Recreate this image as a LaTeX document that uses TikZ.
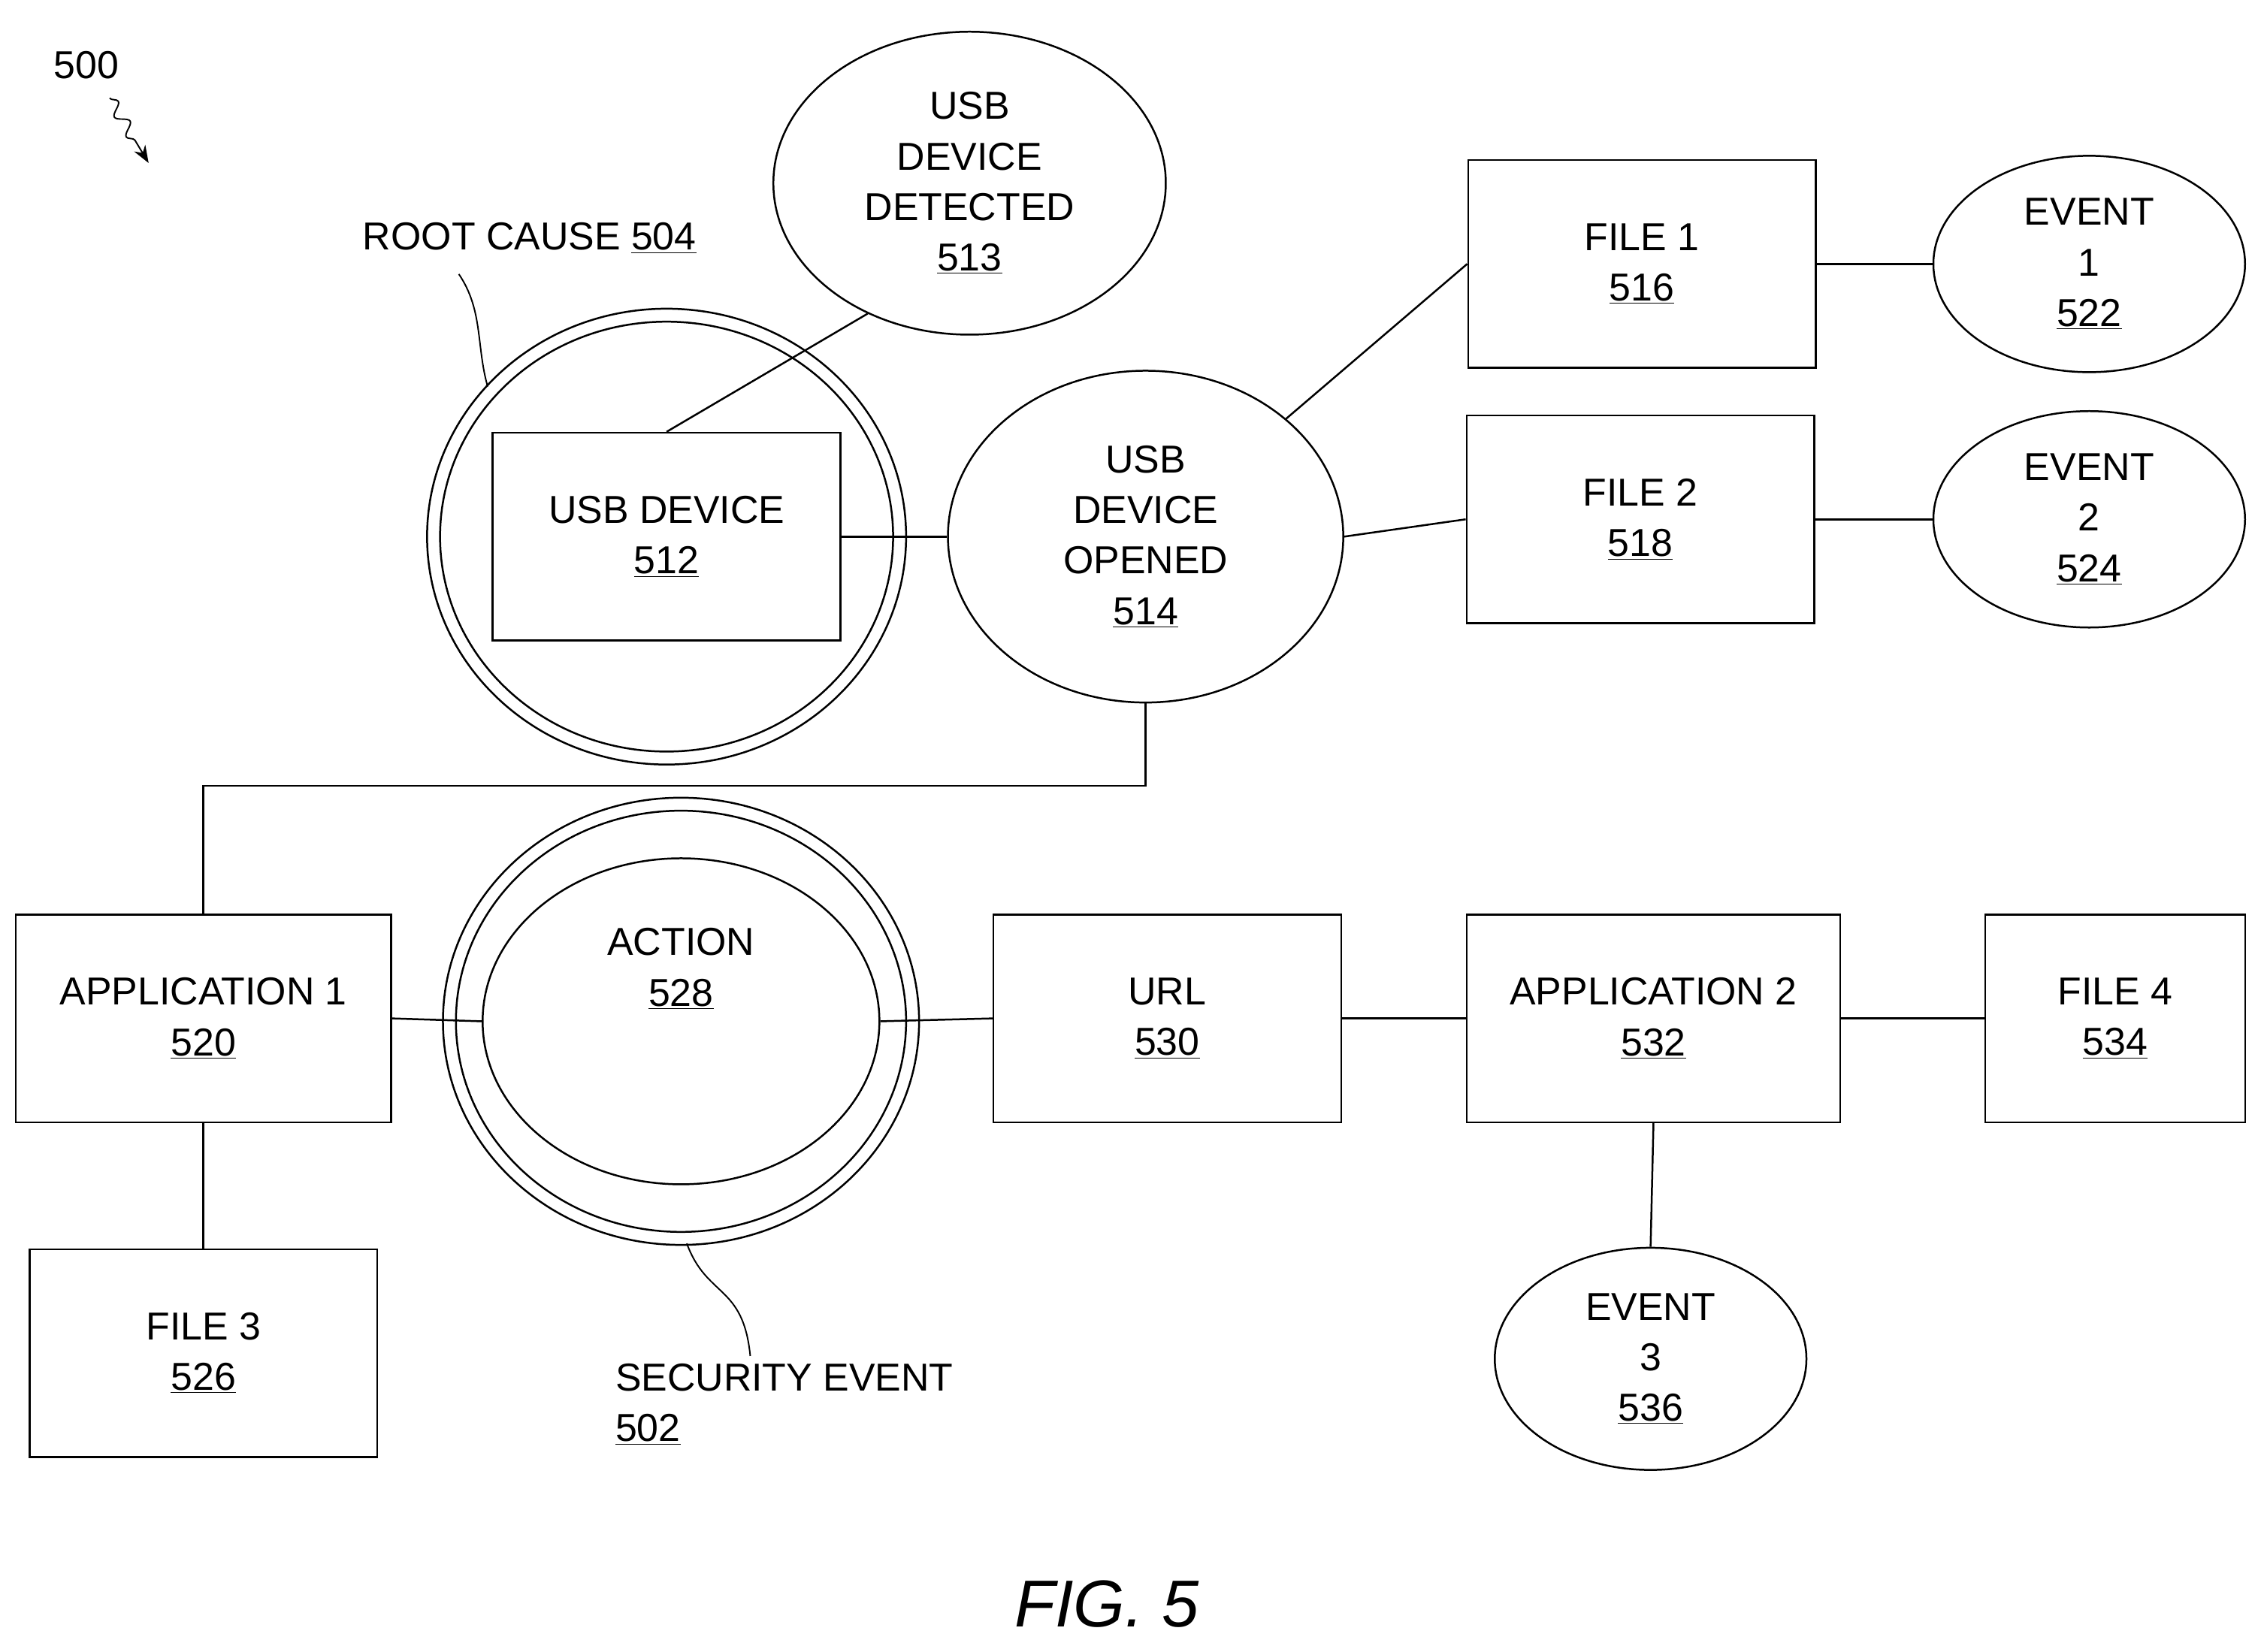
\documentclass[tikz,border=0pt]{standalone}
\usepackage{fontspec}
\setmainfont{Liberation Sans}
\usetikzlibrary{calc, positioning}
\usetikzlibrary{arrows.meta}
\usetikzlibrary{shapes.geometric}
\usetikzlibrary{decorations.pathmorphing}
\tikzset{
    box/.style = {
        draw, rectangle, minimum width=241pt, minimum height=144pt, line width=1.3pt, align=center
    },
    oval/.style = {
        draw, ellipse, line width=1.3pt, align=center, inner sep=0pt
    },
    link/.style = {line width=1.3pt}
}
\newcommand\num[1]{\underline{#1}}
\begin{document}
\begin{tikzpicture}[x=1pt, y=-1pt, every node/.style={font=\fontsize{27}{35}\selectfont}]
        \useasboundingbox (0,0) rectangle (1565,1145);
        % Root cause group
        \draw[link] (462,372) ellipse [x radius=166, y radius=158];
        \draw[link] (462,372) ellipse [x radius=157, y radius=149];
        \node[box] (b512) at (462,372) {USB DEVICE\\\num{512}};
        \node[oval, minimum width=272pt, minimum height=210pt] (e513) at (672,127) {USB\\DEVICE\\DETECTED\\\num{513}};
        \node[oval, minimum width=274pt, minimum height=230pt] (e514) at (794,372) {USB\\DEVICE\\OPENED\\\num{514}};
        \node[box] (b516) at (1138,183) {FILE 1\\\num{516}};
        \node[box] (b518) at (1137,360) {FILE 2\\\num{518}};
        \node[oval, minimum width=216pt, minimum height=150pt] (e522) at (1448,183) {EVENT\\1\\\num{522}};
        \node[oval, minimum width=216pt, minimum height=150pt] (e524) at (1448,360) {EVENT\\2\\\num{524}};
        % Security event group
        \draw[link] (472,708) ellipse [x radius=165, y radius=155];
        \draw[link] (472,708) ellipse [x radius=156, y radius=146];
        \node[oval, minimum width=275pt, minimum height=226pt] (e528) at (472,708) {ACTION\\\num{528}\\[40pt]};
        \node[box, minimum width=260pt] (b520) at (141,706) {APPLICATION 1\\\num{520}};
        \node[box] (b526) at (141,938) {FILE 3\\\num{526}};
        \node[box] (b530) at (809,706) {URL\\\num{530}};
        \node[box, minimum width=259pt] (b532) at (1146,706) {APPLICATION 2\\\num{532}};
        \node[box, minimum width=180pt] (b534) at (1466,706) {FILE 4\\\num{534}};
        \node[oval, minimum width=216pt, minimum height=154pt] (e536) at (1144,942) {EVENT\\3\\\num{536}};
        % Connectors
        \draw[link] (b512.north) -- (e513.-128);
        \draw[link] (b512.east) -- (e514.west);
        \draw[link] (e514.40) -- (b516.west);
        \draw[link] (e514.east) -- (b518.west);
        \draw[link] (b516.east) -- (e522.west);
        \draw[link] (b518.east) -- (e524.west);
        \draw[link] (e514.south) |- ++(0,57) -| (b520.north);
        \draw[link] (b520.east) -- (e528.west);
        \draw[link] (b520.south) -- (b526.north);
        \draw[link] (e528.east) -- (b530.west);
        \draw[link] (b530.east) -- (b532.west);
        \draw[link] (b532.east) -- (b534.west);
        \draw[link] (b532.south) -- (e536.north);
        % Labels
        \node[anchor=west] (l504) at (248,165) {ROOT CAUSE \num{504}};
        \draw[line width=1pt] (318,190) .. controls (335,215) and (330,240) .. (338,268);
        \node[anchor=north west, align=left] (l502) at (423,942) {SECURITY EVENT\\\num{502}};
        \draw[line width=1pt] (476,862) .. controls (490,900) and (515,890) .. (520,940);
        \node (l500) at (60,45) {500};
        \draw[line width=1pt, decorate, decoration={snake, amplitude=4pt, segment length=16pt, post length=12pt}, -{Stealth[length=12pt]}] (76,68) -- (103,113);
        \node[font=\fontsize{46}{50}\selectfont\itshape] (fig) at (767,1112) {FIG. 5};
\end{tikzpicture}
\end{document}
